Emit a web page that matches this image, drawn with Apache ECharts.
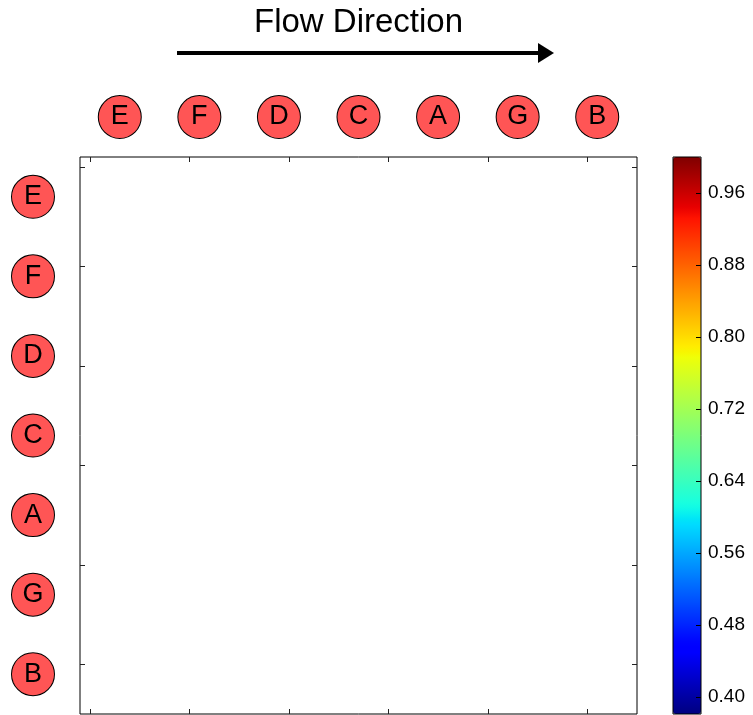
<!DOCTYPE html>
<html><head><meta charset="utf-8">
<script src="https://cdn.jsdelivr.net/npm/echarts@6/dist/echarts.min.js"></script>
<style>html,body{margin:0;padding:0;background:#fff}#c{width:753px;height:715px}</style>
</head><body><div id="c"></div>
<script>
// ---- data ----
const nodes = ['E', 'F', 'D', 'C', 'A', 'G', 'B'];
const cellCount = 56;                 // cells per side of the matrix
const cellTicks = [0, 10, 20, 30, 40, 50];
const cells = [];                     // no coloured cells are visible in the matrix
const colorMin = 0.381;
const colorMax = 1.0;
const colorTicks = [0.40, 0.48, 0.56, 0.64, 0.72, 0.80, 0.88, 0.96];
const titleText = 'Flow Direction';

// ---- colormap (matplotlib "jet" segment definition) ----
const jetR = [[0, 0], [0.35, 0], [0.66, 1], [0.89, 1], [1, 0.5]];
const jetG = [[0, 0], [0.125, 0], [0.375, 1], [0.64, 1], [0.91, 0], [1, 0]];
const jetB = [[0, 0.5], [0.11, 1], [0.34, 1], [0.65, 0], [1, 0]];
function seg(s, t) {
  for (let i = 1; i < s.length; i++) {
    if (t <= s[i][0]) {
      const a = s[i - 1], b = s[i];
      return a[1] + (b[1] - a[1]) * (t - a[0]) / (b[0] - a[0]);
    }
  }
  return s[s.length - 1][1];
}
function jet(t) {
  return 'rgb(' + Math.round(seg(jetR, t) * 255) + ',' + Math.round(seg(jetG, t) * 255) + ',' + Math.round(seg(jetB, t) * 255) + ')';
}
const jetColors = [];
for (let i = 0; i <= 100; i++) jetColors.push(jet(i / 100));
const cellIdx = [];
for (let i = 0; i < cellCount; i++) cellIdx.push(i);

const FONT = 'Liberation Sans, Arial, sans-serif';
const P = { left: 80, top: 157, width: 557, height: 557 };
const circleRich = {
  c: {
    width: 42, height: 42, lineHeight: 42, borderRadius: 21,
    backgroundColor: '#ff5555', borderColor: '#000', borderWidth: 1,
    align: 'center', verticalAlign: 'middle',
    fontSize: 27, fontFamily: FONT, color: '#000'
  }
};
const noLine = { show: false, onZero: false };
const tickStyle = { show: true, inside: true, length: 5, lineStyle: { color: '#222', width: 1 }, customValues: cellTicks };

const chart = echarts.init(document.getElementById('c'), null, { renderer: 'canvas' });
chart.setOption({
  animation: false,
  backgroundColor: '#fff',
  title: {
    text: titleText, left: 249, top: 1,
    textStyle: { fontFamily: FONT, fontSize: 33, fontWeight: 'normal', color: '#000' }
  },
  grid: [
    Object.assign({ show: true, borderColor: '#000', borderWidth: 1, backgroundColor: 'transparent', z: 5 }, P), // tick frame
    Object.assign({}, P),                                               // node labels
    Object.assign({}, P),                                               // matrix cells
    { left: 673, top: 157, width: 28, height: 557, show: true, borderColor: '#000', borderWidth: 1, z: 10 } // colour bar
  ],
  xAxis: [
    { gridIndex: 0, type: 'value', min: -1, max: 55, position: 'bottom', axisLine: noLine, splitLine: { show: false }, axisLabel: { show: false }, axisTick: tickStyle, z: 6 },
    { gridIndex: 0, type: 'value', min: -1, max: 55, position: 'top', axisLine: noLine, splitLine: { show: false }, axisLabel: { show: false }, axisTick: tickStyle, z: 6 },
    { gridIndex: 1, type: 'category', data: nodes, position: 'top', axisLine: noLine, axisTick: { show: false }, splitLine: { show: false },
      axisLabel: { margin: 19, interval: 0, rich: circleRich, formatter: v => '{c|' + v + '}' } },
    { gridIndex: 2, type: 'category', data: cellIdx, show: false, axisLine: noLine },
    { gridIndex: 3, type: 'value', show: false, axisLine: noLine }
  ],
  yAxis: [
    { gridIndex: 0, type: 'value', min: -1, max: 55, inverse: true, position: 'left', axisLine: noLine, splitLine: { show: false }, axisLabel: { show: false }, axisTick: tickStyle, z: 6 },
    { gridIndex: 0, type: 'value', min: -1, max: 55, inverse: true, position: 'right', axisLine: noLine, splitLine: { show: false }, axisLabel: { show: false }, axisTick: tickStyle, z: 6 },
    { gridIndex: 1, type: 'category', data: nodes, inverse: true, position: 'left', axisLine: noLine, axisTick: { show: false }, splitLine: { show: false },
      axisLabel: { margin: 26, interval: 0, rich: circleRich, formatter: v => '{c|' + v + '}' } },
    { gridIndex: 2, type: 'category', data: cellIdx, inverse: true, show: false, axisLine: noLine },
    { gridIndex: 3, type: 'value', min: colorMin, max: colorMax, position: 'right', z: 11,
      axisLine: noLine, splitLine: { show: false },
      axisTick: { show: true, inside: true, length: 5, lineStyle: { color: '#000' }, customValues: colorTicks },
      axisLabel: { customValues: colorTicks, margin: 7, fontSize: 19, fontFamily: FONT, color: '#000', formatter: v => v.toFixed(2) } }
  ],
  visualMap: {
    type: 'continuous', seriesIndex: 0, min: colorMin, max: colorMax,
    left: 673, top: 157, itemWidth: 28, itemHeight: 557, padding: 0,
    calculable: false, showLabel: false, text: null, hoverLink: false,
    inRange: { color: jetColors }
  },
  series: [
    { type: 'heatmap', xAxisIndex: 3, yAxisIndex: 3, data: cells }
  ],
  graphic: [
    { type: 'line', shape: { x1: 177, y1: 53, x2: 542, y2: 53 }, style: { stroke: '#000', lineWidth: 4 } },
    { type: 'polygon', shape: { points: [[538, 43], [554, 53], [538, 63]] }, style: { fill: '#000' } }
  ]
});
</script>
</body></html>
